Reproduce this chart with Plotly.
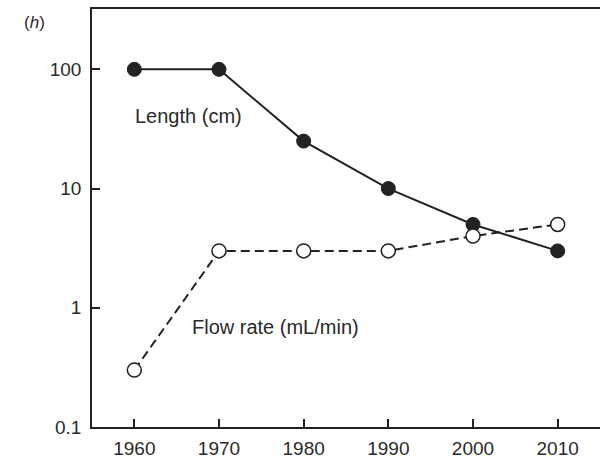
import plotly.graph_objects as go

years = [1960, 1970, 1980, 1990, 2000, 2010]
length_cm = [100, 100, 25, 10, 5, 3]
flow_rate = [0.3, 3, 3, 3, 4, 5]
ytick_vals = [0.1, 1, 10, 100]
ytick_text = ["0.1", "1", "10", "100"]

ink = "#222222"
txt = "#2a2a2a"

fig = go.Figure()
fig.add_trace(go.Scatter(
    x=years, y=length_cm, mode="lines+markers",
    line=dict(color=ink, width=2),
    marker=dict(size=14, color=ink, line=dict(color=ink, width=1)),
    name="Length (cm)", showlegend=False, cliponaxis=False))
fig.add_trace(go.Scatter(
    x=years, y=flow_rate, mode="lines+markers",
    line=dict(color=ink, width=2, dash="9px,5px"),
    marker=dict(size=14, color="white", line=dict(color=ink, width=1.5)),
    name="Flow rate (mL/min)", showlegend=False, cliponaxis=False))

fig.add_annotation(x=1959.8, y=1.61, xref="x", yref="y", yanchor="middle", xanchor="left",
                   text="Length (cm)", showarrow=False, font=dict(size=20, color=txt))
fig.add_annotation(x=1966.6, y=-0.165, xref="x", yref="y", yanchor="middle", xanchor="left",
                   text="Flow rate (mL/min)", showarrow=False, font=dict(size=20, color=txt))
fig.add_annotation(x=-(92 - 34) / 508, y=1 + (9 - 23) / 420, xref="paper", yref="paper",
                   text="(<i>h</i>)", showarrow=False, xanchor="center", yanchor="middle",
                   font=dict(size=17, color=txt))

fig.update_layout(
    width=600, height=459,
    margin=dict(l=92, r=0, t=9, b=30),
    paper_bgcolor="white", plot_bgcolor="white",
    font=dict(family="Liberation Sans, Arial, sans-serif", size=19, color=txt),
    xaxis=dict(range=[1955, 2015], tickvals=years, ticks="inside", ticklen=8,
               tickcolor=ink, tickwidth=1.5, showline=True, linecolor=ink, linewidth=1.5,
               mirror=True, showgrid=False, zeroline=False, tickfont=dict(size=19),
               ticklabelstandoff=3),
    yaxis=dict(type="log", range=[-1, 2.506], tickvals=ytick_vals, ticktext=ytick_text,
               ticks="inside", ticklen=8, tickcolor=ink, tickwidth=1.5, showline=True,
               linecolor=ink, linewidth=1.5, showgrid=False, zeroline=False,
               tickfont=dict(size=19), ticklabelstandoff=5),
)
fig.write_html("out.html")
